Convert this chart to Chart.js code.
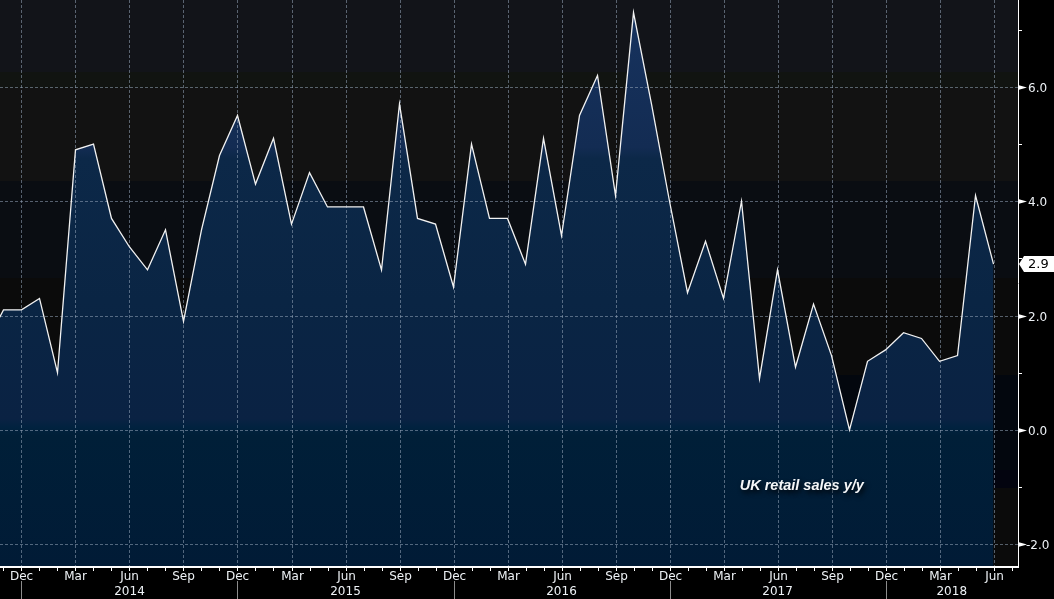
<!DOCTYPE html>
<html>
<head>
<meta charset="utf-8">
<script src="https://cdn.jsdelivr.net/npm/chart.js@4.4.1/dist/chart.umd.min.js"></script>
<style>
html, body { margin: 0; padding: 0; background: #000; }
canvas { display: block; }
</style>
</head>
<body>
<canvas id="mycanvas" width="1054" height="599"></canvas>
<script>
// UK retail sales y/y, monthly, first value is Oct 2013
var StartMonth = 9; // 0 = Jan, so 9 = Oct
var MonthNames = ['Jan','Feb','Mar','Apr','May','Jun','Jul','Aug','Sep','Oct','Nov','Dec'];
var Sales2013 = [1.5, 2.1, 2.1];
var Sales2014 = [2.3, 1.0, 4.9, 5.0, 3.7, 3.2, 2.8, 3.5, 1.9, 3.5, 4.8, 5.5];
var Sales2015 = [4.3, 5.1, 3.6, 4.5, 3.9, 3.9, 3.9, 2.8, 5.7, 3.7, 3.6, 2.5];
var Sales2016 = [5.0, 3.7, 3.7, 2.9, 5.1, 3.4, 5.5, 6.2, 4.1, 7.3, 5.7, 4.0];
var Sales2017 = [2.4, 3.3, 2.3, 4.0, 0.9, 2.8, 1.1, 2.2, 1.3, 0.0, 1.2, 1.4];
var Sales2018 = [1.7, 1.6, 1.2, 1.3, 4.1, 2.9];
var Years = ['2014', '2015', '2016', '2017', '2018'];
var YTicks = [-2, 0, 2, 4, 6];
var YMinorTicks = [-1, 1, 3, 5, 7];
var LastValue = 2.9;
var Title = 'UK retail sales y/y';

// visible window (month index, value)
var XMin = 0.806, XMax = 57.36;
var YMin = -2.38, YMax = 7.52;

var AllSales = Sales2013.concat(Sales2014, Sales2015, Sales2016, Sales2017, Sales2018);
var Points = [];
for (var i = 0; i < AllSales.length; i++)
{
	Points.push({x: i, y: AllSales[i]});
}

function monthOf(m) { return (StartMonth + m) % 12; }

// Background bands [top value, bottom value, colour]
var Bands = [
	[99, 6.26, '#121419'],
	[6.26, 5.98, '#111411'],
	[5.98, 4.35, '#121212'],
	[4.35, 2.66, '#0a0d12'],
	[2.66, 0.96, '#0b0b0b'],
	[0.96, -0.70, '#03070e'],
	[-0.70, -1.01, '#03040f'],
	[-1.01, -99, '#0b0b0b']
];

var LabelFont = '12px "DejaVu Sans"';
var LabelColor = '#eef2f6';

var chartPlugin =
{
	id: 'bbgLook',
	beforeDraw: function(chart)
	{
		var c = chart.ctx, a = chart.chartArea, ys = chart.scales.y;
		c.save();
		c.fillStyle = '#000';
		c.fillRect(0, 0, chart.width, chart.height);
		for (var i = 0; i < Bands.length; i++)
		{
			var y1 = Math.max(a.top, ys.getPixelForValue(Bands[i][0]));
			var y2 = Math.min(a.bottom, ys.getPixelForValue(Bands[i][1]));
			if (y2 <= y1) continue;
			c.fillStyle = Bands[i][2];
			c.fillRect(a.left, Math.round(y1), a.right - a.left, Math.round(y2) - Math.round(y1));
		}
		c.restore();
	},
	beforeDatasetsDraw: function(chart)
	{
		// grid over the fill, under the line
		var c = chart.ctx, a = chart.chartArea, xs = chart.scales.x, ys = chart.scales.y;
		c.save();
		c.strokeStyle = 'rgba(150,165,185,0.55)';
		c.lineWidth = 1;
		c.setLineDash([3, 2]);
		for (var i = 0; i < YTicks.length; i++)
		{
			var y = Math.round(ys.getPixelForValue(YTicks[i])) + 0.5;
			c.beginPath(); c.moveTo(a.left, y); c.lineTo(a.right, y); c.stroke();
		}
		for (var m = Math.ceil(XMin); m <= XMax; m++)
		{
			if (monthOf(m) % 3 != 2) continue;
			var x = Math.round(xs.getPixelForValue(m)) + 0.5;
			c.beginPath(); c.moveTo(x, a.top); c.lineTo(x, a.bottom); c.stroke();
		}
		c.restore();
	},
	afterDraw: function(chart)
	{
		var c = chart.ctx, a = chart.chartArea, xs = chart.scales.x, ys = chart.scales.y;
		c.save();
		// axis lines
		c.strokeStyle = '#ffffff';
		c.lineWidth = 1;
		c.beginPath(); c.moveTo(a.right + 0.5, 0); c.lineTo(a.right + 0.5, a.bottom + 1); c.stroke();
		c.lineWidth = 2;
		c.beginPath(); c.moveTo(0, a.bottom + 1); c.lineTo(a.right + 1, a.bottom + 1); c.stroke();
		// month ticks and labels
		c.lineWidth = 1;
		c.font = LabelFont;
		c.fillStyle = LabelColor;
		c.textAlign = 'center';
		c.textBaseline = 'middle';
		for (var m = Math.ceil(XMin); m <= XMax; m++)
		{
			var x = Math.round(xs.getPixelForValue(m)) + 0.5;
			c.beginPath(); c.moveTo(x, a.bottom); c.lineTo(x, a.bottom + 5); c.stroke();
			var mo = monthOf(m);
			if (mo % 3 == 2) c.fillText(MonthNames[mo], x, a.bottom + 11);
		}
		// year separators and year labels
		var decs = [];
		for (var m = Math.ceil(XMin); m <= XMax; m++)
		{
			if (monthOf(m) == 11) decs.push(m);
		}
		c.strokeStyle = '#8c8c8c';
		for (var i = 0; i < decs.length; i++)
		{
			var x = Math.round(xs.getPixelForValue(decs[i])) + 0.5;
			c.beginPath(); c.moveTo(x, a.bottom + 15); c.lineTo(x, chart.height); c.stroke();
		}
		for (var i = 0; i < Years.length && i < decs.length; i++)
		{
			var x1 = xs.getPixelForValue(decs[i]);
			var x2 = i + 1 < decs.length ? xs.getPixelForValue(decs[i + 1]) : a.right;
			c.fillText(Years[i], (x1 + x2) / 2, a.bottom + 26);
		}
		// right axis minor ticks, arrows and labels
		c.strokeStyle = '#ffffff';
		for (var i = 0; i < YMinorTicks.length; i++)
		{
			var y = Math.round(ys.getPixelForValue(YMinorTicks[i])) + 0.5;
			c.beginPath(); c.moveTo(a.right, y); c.lineTo(a.right + 4, y); c.stroke();
		}
		c.textAlign = 'left';
		for (var i = 0; i < YTicks.length; i++)
		{
			var y = Math.round(ys.getPixelForValue(YTicks[i])) + 0.5;
			c.fillStyle = '#ffffff';
			c.beginPath();
			c.moveTo(a.right, y - 2.5); c.lineTo(a.right + 9, y); c.lineTo(a.right, y + 2.5);
			c.closePath(); c.fill();
			c.fillStyle = LabelColor;
			var lx = YTicks[i] < 0 ? a.right + 8 : a.right + 10;
			c.fillText(YTicks[i].toFixed(1), lx, y + 1);
		}
		// last value tag
		var ty = Math.round(ys.getPixelForValue(LastValue));
		c.fillStyle = '#ffffff';
		c.beginPath();
		c.moveTo(a.right + 1, ty);
		c.lineTo(a.right + 6, ty - 8);
		c.lineTo(chart.width, ty - 8);
		c.lineTo(chart.width, ty + 8);
		c.lineTo(a.right + 6, ty + 8);
		c.closePath();
		c.fill();
		c.fillStyle = '#000000';
		c.font = '13px "DejaVu Sans"';
		c.fillText(LastValue.toFixed(1), a.right + 10, ty + 1);
		// title
		c.font = 'italic bold 14.5px "Liberation Sans"';
		c.shadowColor = 'rgba(0,0,0,0.9)';
		c.shadowBlur = 5;
		c.shadowOffsetX = 2;
		c.shadowOffsetY = 3;
		c.fillStyle = '#f4f6f8';
		c.fillText(Title, xs.getPixelForValue(41.9), ys.getPixelForValue(-0.98));
		c.restore();
	}
};

var ctx = document.getElementById('mycanvas');
var lineGraph = new Chart(ctx,
{
	type: 'line',
	data:
	{
		datasets: [{
			label: Title,
			data: Points,
			borderColor: '#f2f2f2',
			borderWidth: 1.3,
			pointRadius: 0,
			tension: 0,
			fill: 'start',
			backgroundColor: function(context)
			{
				var a = context.chart.chartArea;
				if (!a) return '#0a2444';
				var g = context.chart.ctx.createLinearGradient(0, a.top, 0, a.bottom);
				g.addColorStop(0, '#17335f');
				g.addColorStop(0.26, '#132c53');
				g.addColorStop(0.28, '#0c2848');
				g.addColorStop(0.53, '#0a2544');
				g.addColorStop(0.74, '#0a2243');
				g.addColorStop(0.755, '#01223f');
				g.addColorStop(0.77, '#001f38');
				g.addColorStop(1, '#011b36');
				return g;
			}
		}]
	},
	options:
	{
		responsive: false,
		animation: false,
		devicePixelRatio: 1,
		layout: { padding: 0 },
		plugins:
		{
			legend: { display: false },
			tooltip: { enabled: false },
			filler: { drawTime: 'beforeDatasetsDraw' }
		},
		scales:
		{
			x:
			{
				type: 'linear',
				min: XMin,
				max: XMax,
				grid: { display: false, drawTicks: false },
				border: { display: false },
				ticks: { display: false },
				afterFit: function(scale) { scale.height = 33; }
			},
			y:
			{
				position: 'right',
				min: YMin,
				max: YMax,
				grid: { display: false, drawTicks: false },
				border: { display: false },
				ticks: { display: false },
				afterFit: function(scale) { scale.width = 36; }
			}
		}
	},
	plugins: [chartPlugin]
});
</script>
</body>
</html>
